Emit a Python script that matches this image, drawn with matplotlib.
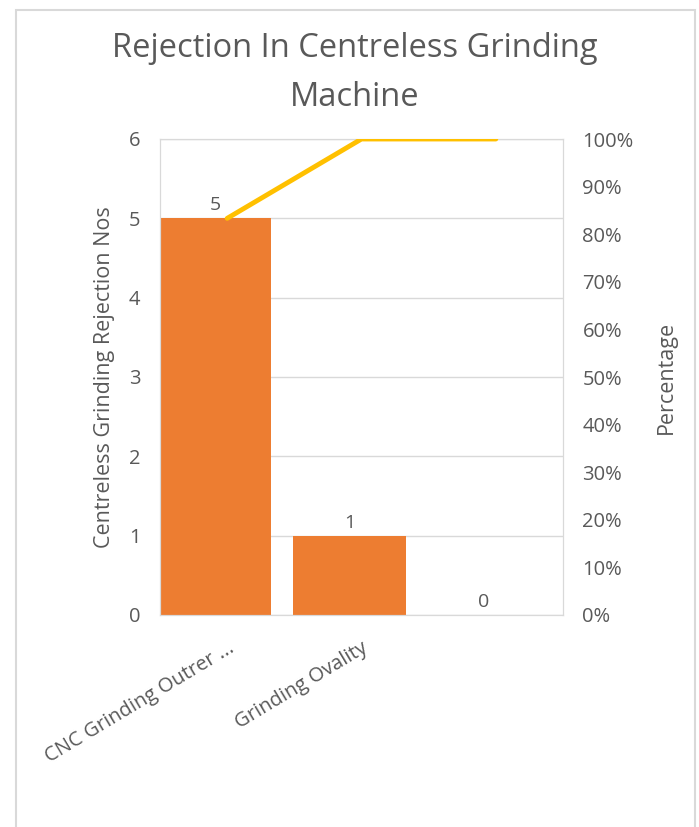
import numpy as np
import matplotlib.pyplot as plt
import matplotlib.patches as patches
from matplotlib.ticker import PercentFormatter

plt.rcParams['font.family'] = ['Open Sans', 'DejaVu Sans']

categories = ['CNC Grinding Outrer ...', 'Grinding Ovality', '']
rejections = [5, 1, 0]
cumulative_pct = [83.33, 100.0, 100.0]

bar_color = '#ED7D31'
line_color = '#FFC000'
grid_color = '#D9D9D9'
text_color = '#595959'

fig = plt.figure(figsize=(6.99, 8.27), dpi=100)
ax = fig.add_axes([160 / 699, 1 - 615 / 827, (563 - 160) / 699, (615 - 139) / 827])

x = np.arange(len(categories))
ax.bar(x - 0.09, rejections, width=0.84, color=bar_color, zorder=2)
for xi, v in zip(x, rejections):
    ax.text(xi - 0.09, v + 0.05, str(v), ha='center', va='bottom',
            fontsize=14, color=text_color)

ax.set_xlim(-0.5, 2.5)
ax.set_ylim(0, 6)
ax.set_yticks(range(7))
ax.yaxis.grid(True, color=grid_color, linewidth=1, zorder=0)
ax.set_xticks(x)
ax.set_xticklabels(categories, rotation=31, ha='right', rotation_mode='anchor',
                   fontsize=14.5, color=text_color)
ax.tick_params(axis='both', length=0, labelsize=14.5, labelcolor=text_color)
ax.tick_params(axis='x', pad=17)
ax.tick_params(axis='y', pad=14)
for s in ax.spines.values():
    s.set_color(grid_color)
ax.set_ylabel('Centreless Grinding Rejection Nos', fontsize=15.5, color=text_color, labelpad=10)

ax2 = ax.twinx()
ax2.plot(x, cumulative_pct, color=line_color, linewidth=3.5, solid_capstyle='round', zorder=3)
ax2.set_ylim(0, 100)
ax2.set_yticks(range(0, 101, 10))
ax2.yaxis.set_major_formatter(PercentFormatter(decimals=0))
ax2.tick_params(axis='y', length=0, labelsize=14.5, labelcolor=text_color, pad=14)
for s in ax2.spines.values():
    s.set_color(grid_color)
ax2.set_ylabel('Percentage', fontsize=15.5, color=text_color, labelpad=16)

fig.text(355 / 699, 1 - 73 / 827, 'Rejection In Centreless Grinding\nMachine', ha='center',
         va='center', fontsize=23.5, color=text_color, linespacing=1.65)

border = patches.Rectangle((15.5 / 699, -0.05), (695 - 15.5) / 699, 1 - 10 / 827 + 0.05,
                           transform=fig.transFigure, fill=False,
                           edgecolor='#D9D9D9', linewidth=1.5)
fig.patches.append(border)

fig.savefig('out.png', dpi=100)
